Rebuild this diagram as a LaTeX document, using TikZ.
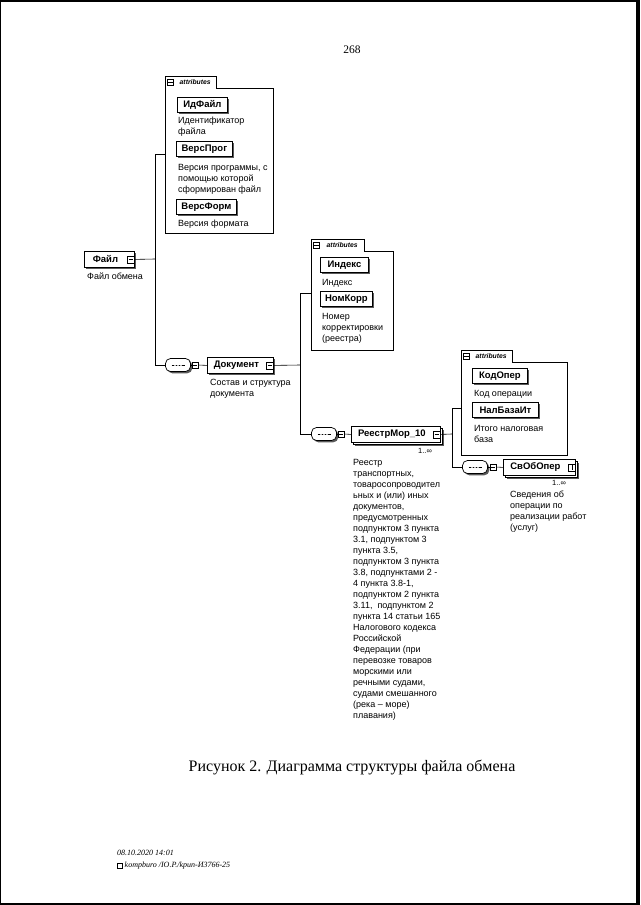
\documentclass[tikz,border=0pt]{standalone}
\usepackage{fontspec}
\setmainfont{Liberation Serif}
\setsansfont{Liberation Sans}
\usetikzlibrary{shadows,calc}

\tikzset{
  conn/.style={line width=0.6pt},
  elem/.style={draw, line width=0.8pt, fill=white, anchor=north west,
    font=\sffamily\bfseries\fontsize{9.5}{11}\selectfont, inner sep=0pt,
    minimum height=15pt,
    drop shadow={shadow xshift=2pt, shadow yshift=-2pt, fill=black!65, opacity=1}},
  elemI/.style={elem, minimum height=16pt},
  multi/.style={draw, line width=0.8pt, fill=white, anchor=north west,
    font=\sffamily\bfseries\fontsize{9.5}{11}\selectfont, inner sep=0pt,
    minimum height=16pt,
    drop shadow={shadow xshift=4pt, shadow yshift=-4pt, fill=black!65, opacity=1},
    copy shadow={shadow xshift=2.2pt, shadow yshift=-2.2pt, line width=0.5pt}},
  desc/.style={font=\sffamily\fontsize{9}{11}\selectfont, align=left,
    anchor=north west, inner sep=0pt},
  card/.style={font=\sffamily\fontsize{7.5}{8}\selectfont, inner sep=0pt},
  iconm/.style={draw, fill=white, minimum size=7pt, inner sep=0pt, line width=0.5pt,
    path picture={\draw[line width=0.5pt] ([xshift=-2.3pt]path picture bounding box.center)
      -- ([xshift=2.3pt]path picture bounding box.center);}},
  iconp/.style={iconm, path picture={\draw[line width=0.5pt]
      ([yshift=-2.3pt]path picture bounding box.center)
      -- ([yshift=2.3pt]path picture bounding box.center);}},
  seqbox/.style={draw, fill=white, line width=0.7pt, rounded corners=5pt,
    minimum width=25pt, minimum height=13pt, inner sep=0pt,
    drop shadow={shadow xshift=1.8pt, shadow yshift=-1.8pt, fill=black!65, opacity=1},
    path picture={
      \draw[line width=0.6pt] ([xshift=-6.5pt]path picture bounding box.center)
        -- ([xshift=6.5pt]path picture bounding box.center);
      \foreach \d in {-3,0,3}{\fill ([xshift=\d pt]path picture bounding box.center) circle (1pt);}
    }},
  attrbody/.style={anchor=north west, inner sep=0pt, fill=white, draw=none},
  attrtab/.style={anchor=south west, inner sep=0pt, fill=white, draw=none,
    font=\sffamily\bfseries\itshape\fontsize{6.8}{7}\selectfont},
  attrline/.style={line width=0.7pt},
}

\begin{document}
\begin{tikzpicture}[x=1pt,y=-1pt]
\useasboundingbox (0,0) rectangle (640,905);
\fill[white] (0,0) rectangle (640,905);
% scan edges
\fill[black] (0,0) rectangle (640,2);
\fill[black] (0,0) rectangle (1.3,905);
\fill[black] (636,0) rectangle (640,905);
\fill[black] (0,902.5) rectangle (640,905);

\node[font=\fontsize{11.5}{13}\selectfont, inner sep=0pt] (pg) at (352,50) {268};

% ---------- Файл ----------
\node[elemI, minimum width=50pt] (fayl) at (84,251) {Файл\kern8pt};
\node[iconm] (fayli) at ([xshift=-4pt]fayl.east) {};
\node[desc] (fayld) at (87,273) {Файл обмена};

\coordinate (j1t) at (155,154);
\coordinate (j1m) at (155,259);
\coordinate (j1b) at (155,365);
\draw[conn] (fayli.east) -- (j1m);
\draw[conn] (j1t) -- (j1b);

% ---------- attributes 1 ----------
\node[attrbody, minimum width=108pt, minimum height=145pt] (a1) at (165,88) {};
\node[attrtab, minimum width=51pt, minimum height=11pt] (a1t) at (165,88) {\hspace*{9pt}attributes};
\draw[attrline] (a1t.south east) -- (a1.north east) -- (a1.south east) -- (a1.south west)
  -- (a1t.north west) -- (a1t.north east) -- cycle;
\node[iconm, minimum size=6pt] (a1ti) at ([xshift=5.5pt]a1t.west) {};
\draw[conn] (j1t) -- (j1t -| a1.west);

\node[elem, minimum width=50pt] (idf) at (177,97) {ИдФайл};
\node[desc] (idfd) at (178,117) {Идентификатор\\файла};
\node[elem, minimum width=56pt] (vprog) at (176,141) {ВерсПрог};
\node[desc] (vprogd) at (178,164) {Версия программы, с\\помощью которой\\сформирован файл};
\node[elem, minimum width=60pt] (vform) at (176,199) {ВерсФорм};
\node[desc] (vformd) at (178,220) {Версия формата};

% ---------- Документ ----------
\node[seqbox] (s1) at (178,365) {};
\node[iconm, minimum size=6pt] (s1i) at (195,365) {};
\node[elemI, minimum width=66pt] (doc) at (207,357) {Документ\kern8pt};
\node[iconm] (doci) at ([xshift=-4pt]doc.east) {};
\node[desc] (docd) at (210,379) {Состав и структура\\документа};
\draw[conn] (j1b) -- (s1.west);
\draw[conn] (s1.east) -- (s1i.west);
\draw[conn] (s1i.east) -- (doc.west);

\coordinate (j2t) at (300,293);
\coordinate (j2m) at (300,365);
\coordinate (j2b) at (300,434);
\draw[conn] (doci.east) -- (j2m);
\draw[conn] (j2t) -- (j2b);

% ---------- attributes 2 ----------
\node[attrbody, minimum width=82pt, minimum height=99pt] (a2) at (311,251) {};
\node[attrtab, minimum width=53pt, minimum height=11pt] (a2t) at (311,251) {\hspace*{9pt}attributes};
\draw[attrline] (a2t.south east) -- (a2.north east) -- (a2.south east) -- (a2.south west)
  -- (a2t.north west) -- (a2t.north east) -- cycle;
\node[iconm, minimum size=6pt] (a2ti) at ([xshift=5.5pt]a2t.west) {};
\draw[conn] (j2t) -- (j2t -| a2.west);

\node[elem, minimum width=48pt] (idx) at (320,257) {Индекс};
\node[desc] (idxd) at (322,279) {Индекс};
\node[elem, minimum width=52pt] (nkorr) at (320,291) {НомКорр};
\node[desc] (nkorrd) at (322,313) {Номер\\корректировки\\(реестра)};

% ---------- РеестрМор_10 ----------
\node[seqbox] (s2) at (324,434) {};
\node[iconm, minimum size=6pt] (s2i) at (341,434) {};
\node[multi, minimum width=89pt] (reestr) at (351,426) {РеестрМор\_10\kern8pt};
\node[iconm] (reestri) at ([xshift=-4pt]reestr.east) {};
\node[card] (reestrc) at (425,451) {1..∞};
\node[desc] (reestrd) at (353,459) {Реестр\\транспортных,\\товаросопроводител\\ьных и (или) иных\\документов,\\предусмотренных\\подпунктом 3 пункта\\3.1, подпунктом 3\\пункта 3.5,\\подпунктом 3 пункта\\3.8, подпунктами 2 -\\4 пункта 3.8-1,\\подпунктом 2 пункта\\3.11,\ \ подпунктом 2\\пункта 14 статьи 165\\Налогового кодекса\\Российской\\Федерации (при\\перевозке товаров\\морскими или\\речными судами,\\судами смешанного\\(река – море)\\плавания)};
\draw[conn] (j2b) -- (s2.west);
\draw[conn] (s2.east) -- (s2i.west);
\draw[conn] (s2i.east) -- (reestr.west);

\coordinate (j3t) at (452,408);
\coordinate (j3m) at (452,434);
\coordinate (j3b) at (452,467);
\draw[conn] (reestri.east) -- (j3m);
\draw[conn] (j3t) -- (j3b);

% ---------- attributes 3 ----------
\node[attrbody, minimum width=106pt, minimum height=93pt] (a3) at (461,362) {};
\node[attrtab, minimum width=51pt, minimum height=11pt] (a3t) at (461,362) {\hspace*{9pt}attributes};
\draw[attrline] (a3t.south east) -- (a3.north east) -- (a3.south east) -- (a3.south west)
  -- (a3t.north west) -- (a3t.north east) -- cycle;
\node[iconm, minimum size=6pt] (a3ti) at ([xshift=5.5pt]a3t.west) {};
\draw[conn] (j3t) -- (j3t -| a3.west);

\node[elem, minimum width=55pt] (kod) at (472,368) {КодОпер};
\node[desc] (kodd) at (474,390) {Код операции};
\node[elem, minimum width=66pt] (nal) at (472,402) {НалБазаИт};
\node[desc] (nald) at (474,425) {Итого налоговая\\база};

% ---------- СвОбОпер ----------
\node[seqbox] (s3) at (475,467) {};
\node[iconm, minimum size=6pt] (s3i) at (493,467) {};
\node[multi, minimum width=72pt] (svob) at (503,459) {СвОбОпер\kern8pt};
\node[iconp] (svobi) at ([xshift=-4pt]svob.east) {};
\node[card] (svobc) at (559,483) {1..∞};
\node[desc] (svobd) at (510,491) {Сведения об\\операции по\\реализации работ\\(услуг)};
\draw[conn] (j3b) -- (s3.west);
\draw[conn] (s3.east) -- (s3i.west);
\draw[conn] (s3i.east) -- (svob.west);

% ---------- caption and footer ----------
\node[font=\fontsize{16}{19}\selectfont, inner sep=0pt] (cap) at (352,767) {Рисунок 2. Диаграмма структуры файла обмена};
\node[font=\itshape\fontsize{8}{10}\selectfont, anchor=west, inner sep=0pt] (f1) at (117,853) {08.10.2020 14:01};
\node[draw, line width=0.4pt, minimum size=5pt, inner sep=0pt] (ficon) at (120,866) {};
\node[font=\itshape\fontsize{8}{10}\selectfont, anchor=west, inner sep=0pt] (f2) at (124.5,866) {kompburo /IO.P./kpun-И3766-25};
\end{tikzpicture}
\end{document}
